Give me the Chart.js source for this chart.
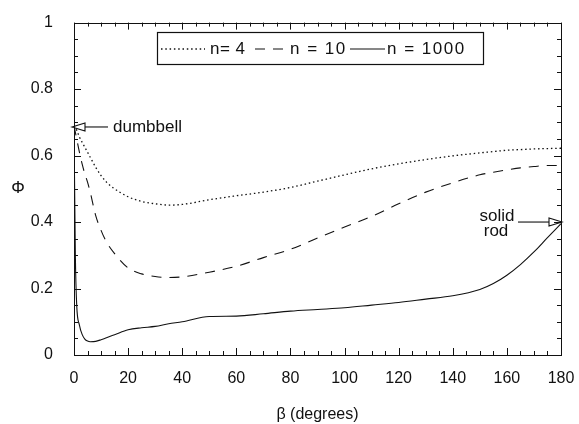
<!DOCTYPE html>
<html><head><meta charset="utf-8">
<script src="https://cdn.jsdelivr.net/npm/chart.js@4/dist/chart.umd.min.js"></script>
<style>html,body{margin:0;padding:0;background:#fff}#wrap{width:579px;height:424px}</style>
</head><body><div id="wrap"><canvas id="c" width="579" height="424"></canvas></div>
<script>
// ---- data ----
const beta = [0, 0.5, 1, 2, 3, 4, 5, 6, 8, 10, 12, 15, 20, 25, 30, 35, 40, 50, 60, 70, 80, 90, 100, 110, 120, 130, 140, 150, 155, 160, 165, 170, 175, 180];
const phiN4 = [0.69, 0.684, 0.676, 0.656, 0.64, 0.625, 0.61, 0.595, 0.565, 0.54, 0.52, 0.50, 0.476, 0.462, 0.455, 0.451, 0.453, 0.467, 0.479, 0.49, 0.504, 0.523, 0.542, 0.56, 0.575, 0.588, 0.599, 0.608, 0.612, 0.616, 0.618, 0.62, 0.621, 0.622];
const phiN10 = [0.69, 0.67, 0.65, 0.61, 0.575, 0.545, 0.52, 0.49, 0.42, 0.375, 0.34, 0.305, 0.262, 0.244, 0.236, 0.233, 0.235, 0.249, 0.267, 0.293, 0.318, 0.352, 0.385, 0.417, 0.455, 0.49, 0.518, 0.542, 0.55, 0.557, 0.563, 0.567, 0.57, 0.57];
const phiN1000 = [0.69, 0.30, 0.15, 0.09, 0.062, 0.048, 0.042, 0.04, 0.041, 0.046, 0.052, 0.061, 0.076, 0.082, 0.086, 0.094, 0.10, 0.116, 0.117, 0.124, 0.132, 0.137, 0.142, 0.15, 0.158, 0.168, 0.178, 0.197, 0.215, 0.24, 0.272, 0.31, 0.353, 0.395];
const seriesLabels = ['n= 4', 'n = 10', 'n = 1000'];
const xTickStep = 20, xMinorStep = 5, xMin = 0, xMax = 180;
const yTickStep = 0.2, yMinorStep = 0.05, yMin = 0, yMax = 1;
const xTitle = 'β (degrees)';
const yTitle = 'Φ';
const annDumbbell = {text: ['dumbbell'], x: 0, y: 0.686};
const annRod = {text: ['solid', 'rod'], x: 180, y: 0.40};

const INK = '#111';
const FONT = '"Liberation Sans", Arial, Helvetica, sans-serif';
const styles = [
  {borderDash: [1.5, 2.8], borderWidth: 1.3},
  {borderDash: [10, 8], borderWidth: 1.1},
  {borderDash: [], borderWidth: 1.1}
];
const seriesData = [phiN4, phiN10, phiN1000];

function openArrow(ctx, x0, x1, y) {
  const dir = x1 > x0 ? 1 : -1;
  const headLen = 13, half = 4;
  ctx.beginPath();
  ctx.moveTo(x0, y);
  ctx.lineTo(x1 - dir * headLen, y);
  ctx.stroke();
  ctx.beginPath();
  ctx.moveTo(x1, y);
  ctx.lineTo(x1 - dir * headLen, y - half);
  ctx.lineTo(x1 - dir * headLen, y + half);
  ctx.closePath();
  ctx.stroke();
}

const decor = {
  id: 'decor',
  afterDraw(chart) {
    const {ctx, chartArea: a, scales: {x, y}} = chart;
    ctx.save();
    ctx.strokeStyle = INK;
    ctx.fillStyle = INK;
    ctx.lineWidth = 1;
    ctx.strokeRect(Math.round(a.left) + 0.5, Math.round(a.top) + 0.5, Math.round(a.right - a.left), Math.round(a.bottom - a.top));
    ctx.beginPath();
    for (let v = xMin; v <= xMax + 1e-9; v += xMinorStep) {
      const px = Math.round(x.getPixelForValue(v)) + 0.5;
      const len = (Math.abs(v % xTickStep) < 1e-9) ? 7 : 4;
      ctx.moveTo(px, a.bottom); ctx.lineTo(px, a.bottom - len);
      ctx.moveTo(px, a.top); ctx.lineTo(px, a.top + len);
    }
    const nY = Math.round((yMax - yMin) / yMinorStep);
    const per = Math.round(yTickStep / yMinorStep);
    for (let i = 0; i <= nY; i++) {
      const v = yMin + i * yMinorStep;
      const py = Math.round(y.getPixelForValue(v)) + 0.5;
      const len = (i % per === 0) ? 7 : 4;
      ctx.moveTo(a.left, py); ctx.lineTo(a.left + len, py);
      ctx.moveTo(a.right, py); ctx.lineTo(a.right - len, py);
    }
    ctx.stroke();

    ctx.font = '17px ' + FONT;
    ctx.textAlign = 'center';
    ctx.textBaseline = 'middle';
    ctx.fillText(yTitle, 18, (a.top + a.bottom) / 2);

    // legend box
    const lx = 157, ly = 32, lw = 326, lh = 32, cy = ly + lh / 2;
    ctx.fillStyle = '#fff';
    ctx.fillRect(lx, ly, lw, lh);
    ctx.fillStyle = INK;
    ctx.lineWidth = 1.2;
    ctx.strokeRect(lx + 0.5, ly + 0.5, lw, lh);
    const items = [
      {x0: 161, x1: 205, tx: 210},
      {x0: 255, x1: 288, tx: 290},
      {x0: 350, x1: 385, tx: 387}
    ];
    ctx.font = '17px ' + FONT;
    ctx.textAlign = 'left';
    items.forEach((it, i) => {
      ctx.save();
      ctx.lineWidth = styles[i].borderWidth;
      ctx.setLineDash(styles[i].borderDash);
      ctx.beginPath();
      ctx.moveTo(it.x0, cy + 1); ctx.lineTo(it.x1, cy + 1);
      ctx.stroke();
      ctx.restore();
      ctx.save();
      try { ctx.letterSpacing = i === 0 ? '0.5px' : '1.5px'; } catch (e) {}
      ctx.fillText(seriesLabels[i], it.tx, cy + 1);
      ctx.restore();
    });

    ctx.lineWidth = 1.1;
    ctx.font = '17px ' + FONT;
    ctx.textBaseline = 'middle';
    const dx = x.getPixelForValue(annDumbbell.x), dy = y.getPixelForValue(annDumbbell.y);
    openArrow(ctx, dx + 34, dx - 2, dy);
    ctx.textAlign = 'left';
    ctx.fillText(annDumbbell.text[0], dx + 39, dy);
    const rx = x.getPixelForValue(annRod.x), ry = y.getPixelForValue(annRod.y);
    openArrow(ctx, rx - 43, rx + 1, ry);
    ctx.textAlign = 'center';
    ctx.fillText(annRod.text[0], rx - 64, ry - 6);
    ctx.fillText(annRod.text[1], rx - 65, ry + 9);
    ctx.restore();
  }
};

new Chart(document.getElementById('c').getContext('2d'), {
  type: 'line',
  data: {
    datasets: seriesData.map((arr, i) => ({
      label: seriesLabels[i],
      data: beta.map((b, j) => ({x: b, y: arr[j]})),
      borderColor: INK,
      borderWidth: styles[i].borderWidth,
      borderDash: styles[i].borderDash,
      pointRadius: 0,
      fill: false,
      cubicInterpolationMode: 'monotone'
    }))
  },
  options: {
    responsive: false,
    devicePixelRatio: 1,
    animation: false,
    layout: {padding: {top: 18, right: 18, left: 0, bottom: 0}},
    plugins: {legend: {display: false}, tooltip: {enabled: false}},
    scales: {
      x: {
        type: 'linear', min: xMin, max: xMax,
        grid: {display: true, drawOnChartArea: false, drawTicks: true, tickLength: 11, color: 'rgba(0,0,0,0)'},
        border: {display: false},
        ticks: {stepSize: xTickStep, color: INK, font: {size: 16, family: FONT}, padding: 3, maxRotation: 0},
        title: {display: true, text: xTitle, color: INK, font: {size: 16, family: FONT}, padding: {top: 0, bottom: 0}},
        afterFit: s => { s.height = 69; }
      },
      y: {
        min: yMin, max: yMax,
        grid: {display: false}, border: {display: false},
        ticks: {stepSize: yTickStep, color: INK, font: {size: 16, family: FONT}, padding: 13,
                callback: v => String(Math.round(v * 100) / 100)},
        afterFit: s => { s.width = 74; }
      }
    }
  },
  plugins: [decor]
});
</script>
</body></html>
